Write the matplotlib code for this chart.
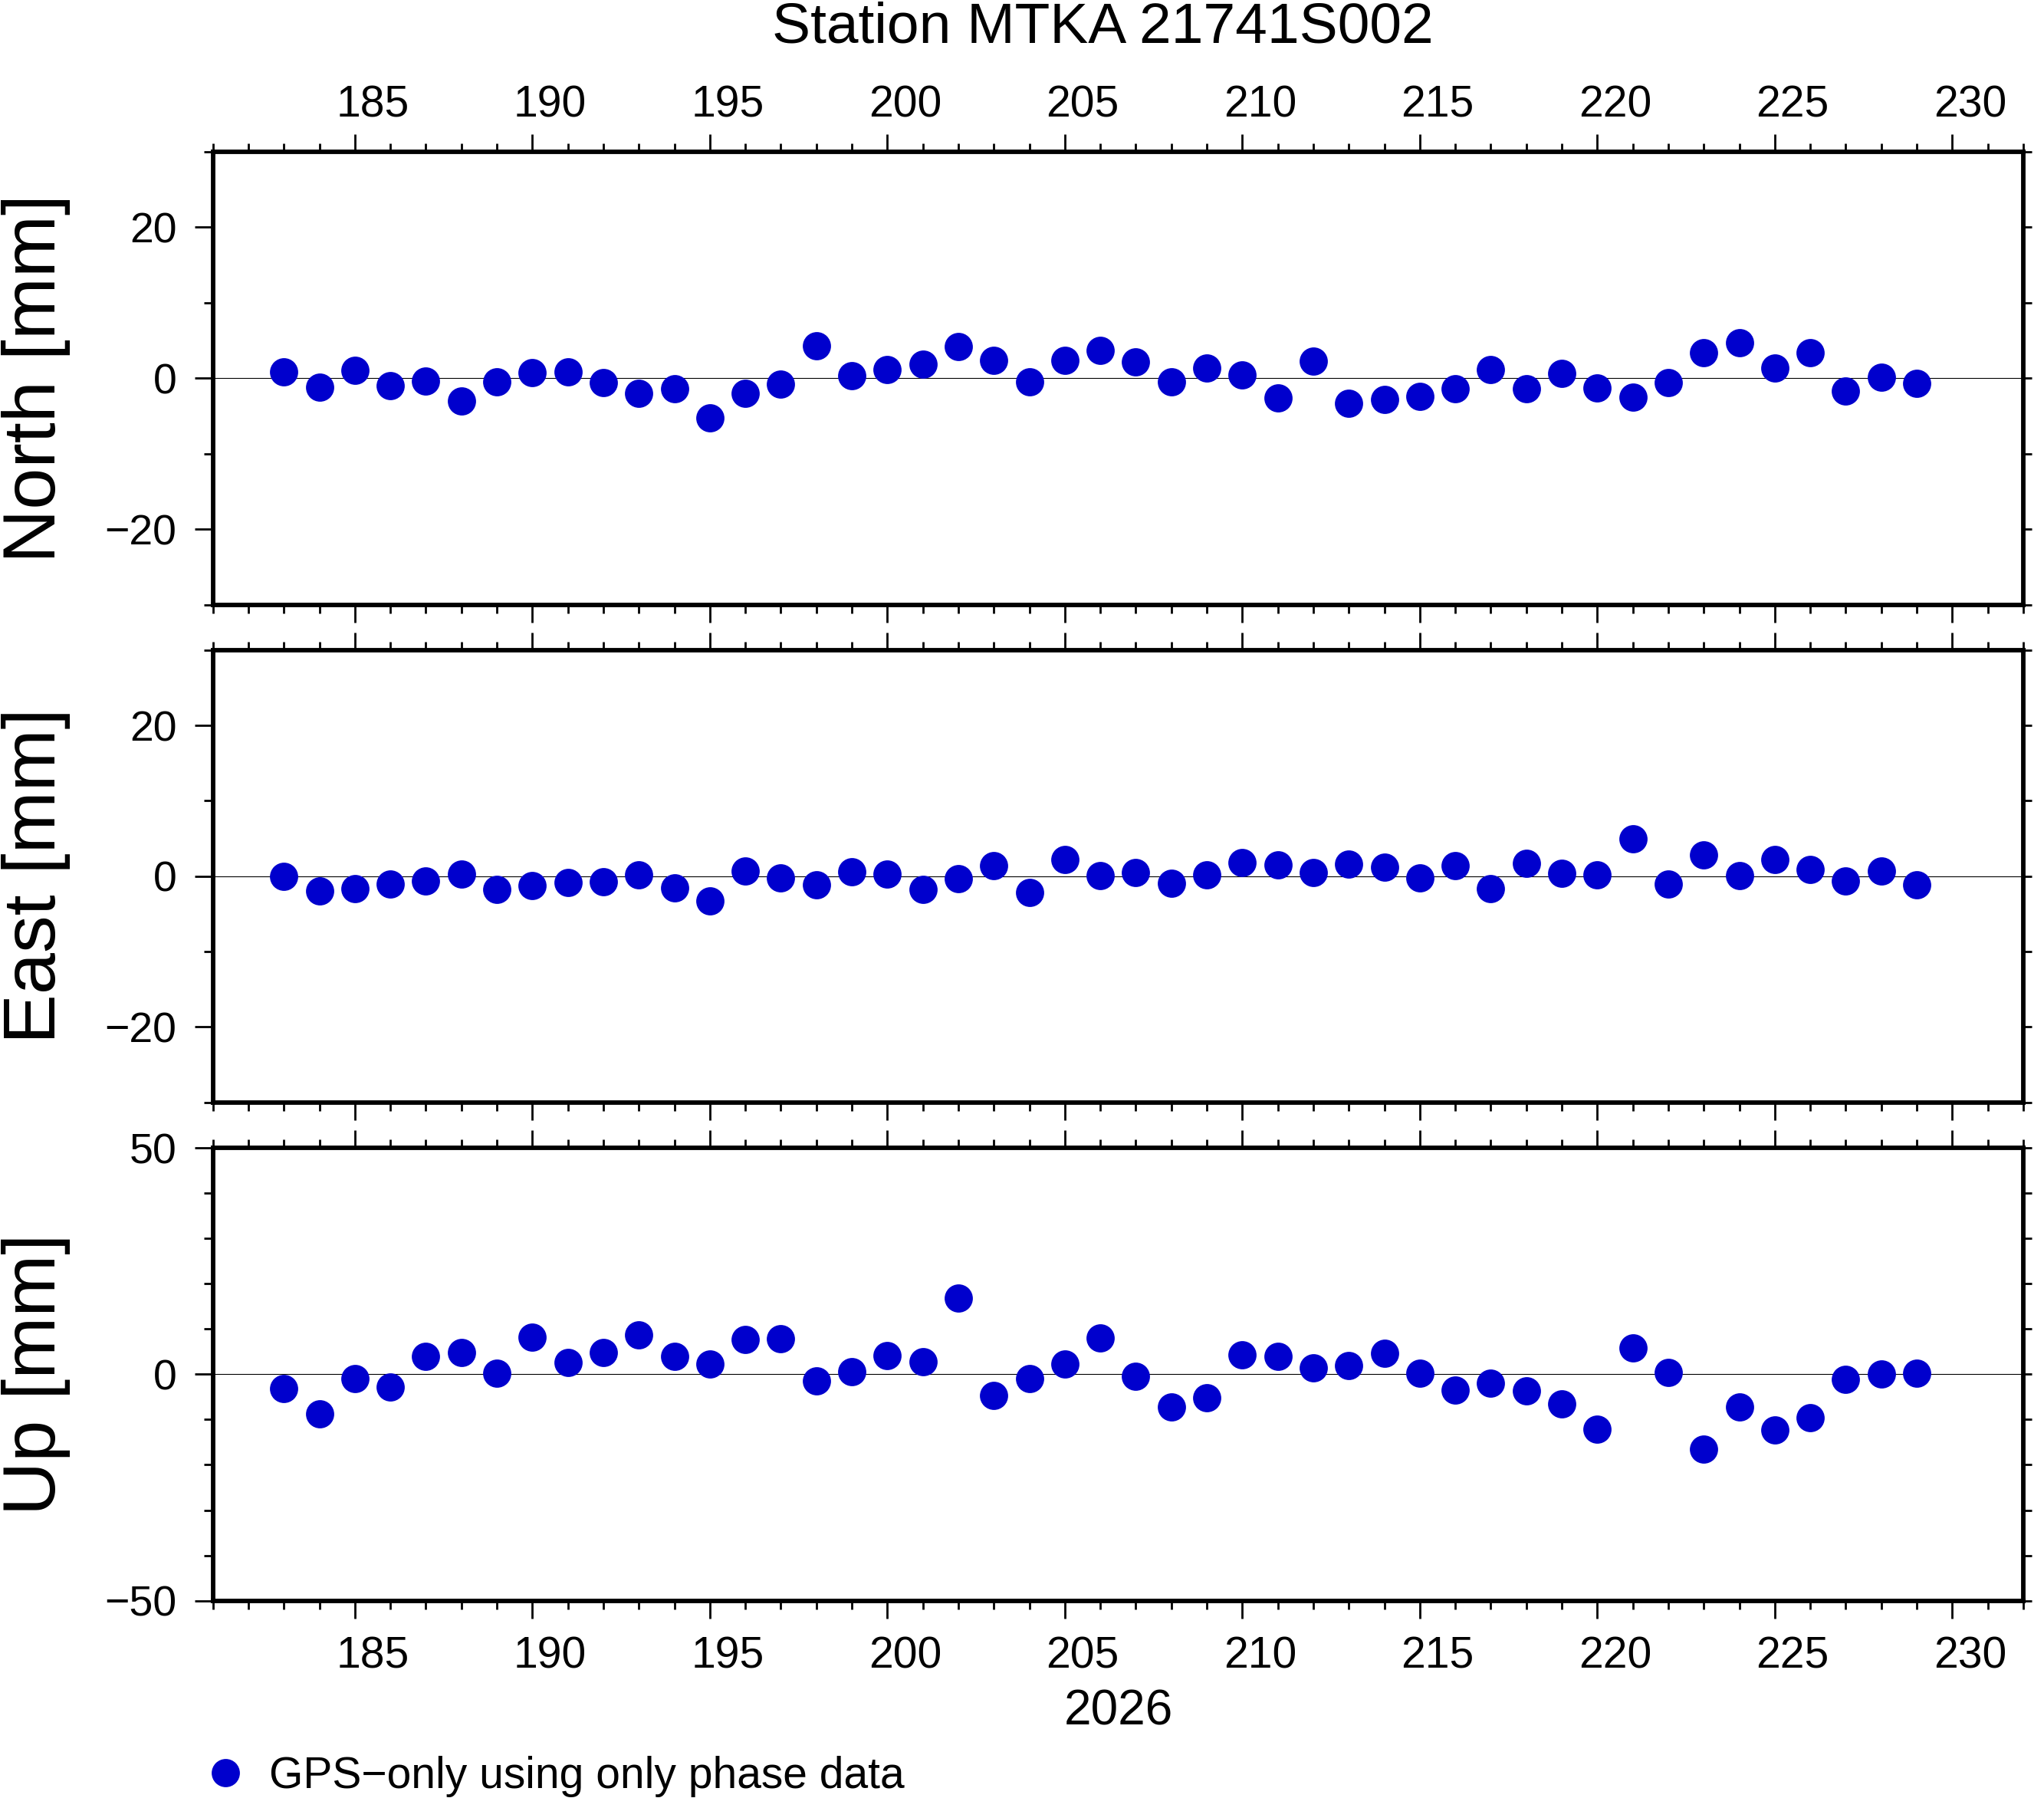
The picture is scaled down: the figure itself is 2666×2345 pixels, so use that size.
import matplotlib
matplotlib.use("Agg")
from matplotlib import pyplot as plt
from matplotlib.ticker import MultipleLocator, NullFormatter
import numpy as np

plt.rcParams['font.family'] = ['Liberation Sans', 'DejaVu Sans']

# day of year 2026
days = list(range(183, 230))

north = [0.81, -1.22, 1.01, -1.01, -0.41, -3.04, -0.51, 0.71, 0.81, -0.61, -2.03, -1.42,
         -5.27, -2.03, -0.81, 4.26, 0.30, 1.11, 1.82, 4.16, 2.33, -0.51, 2.33, 3.65,
         2.13, -0.51, 1.32, 0.41, -2.64, 2.23, -3.34, -2.84, -2.43, -1.42, 1.11, -1.42,
         0.61, -1.32, -2.53, -0.61, 3.34, 4.66, 1.32, 3.34, -1.72, 0.10, -0.71]
east = [0.0, -1.93, -1.62, -1.01, -0.61, 0.30, -1.72, -1.22, -0.81, -0.71, 0.20, -1.52,
        -3.34, 0.71, -0.20, -1.11, 0.61, 0.30, -1.72, -0.30, 1.42, -2.13, 2.23, 0.10,
        0.51, -0.91, 0.20, 1.82, 1.52, 0.51, 1.62, 1.22, -0.20, 1.42, -1.62, 1.72,
        0.41, 0.20, 4.97, -1.01, 2.84, 0.10, 2.23, 0.91, -0.61, 0.71, -1.11]
up = [-3.16, -8.81, -1.02, -2.88, 3.90, 4.75, 0.17, 8.14, 2.54, 4.75, 8.70, 3.90,
      2.20, 7.63, 7.80, -1.53, 0.51, 4.07, 2.82, 16.78, -4.75, -1.02, 2.20, 8.02,
      -0.51, -7.23, -5.25, 4.24, 3.90, 1.36, 1.86, 4.58, 0.17, -3.56, -2.03, -3.73,
      -6.61, -12.20, 5.76, 0.34, -16.61, -7.23, -12.37, -9.66, -1.19, 0.0, 0.17]

panel_names = ["North [mm]", "East [mm]", "Up [mm]"]
panel_limits = [30, 30, 50]
panel_major = [20, 20, 50]
x_labels = [str(d) for d in range(185, 231, 5)]
title = "Station MTKA 21741S002"
legend_label = "GPS\u2212only using only phase data"

W, H = 2666, 2345
fig = plt.figure(figsize=(W / 100, H / 100), dpi=100)

x0, x1 = 277.7, 2639
panels_px = [(197.7, 789), (847.7, 1437.6), (1497, 2087.7)]
col = '#0000CD'
spine_w = 4.2
tick_w = 2.0

axes = []
for i, (top, bot) in enumerate(panels_px):
    ax = fig.add_axes([x0 / W, 1 - bot / H, (x1 - x0) / W, (bot - top) / H])
    vals = [north, east, up][i]
    ax.axhline(0, color='black', lw=0.8, zorder=1)
    line, = ax.plot(days, vals, 'o', ms=26.5, color=col, mew=0, zorder=3, label=legend_label)
    ax.set_xlim(181, 232)
    lim = panel_limits[i]
    ax.set_ylim(-lim, lim)
    ax.xaxis.set_major_locator(MultipleLocator(5))
    ax.xaxis.set_minor_locator(MultipleLocator(1))
    ax.xaxis.set_major_formatter(NullFormatter())
    ax.yaxis.set_major_locator(MultipleLocator(panel_major[i]))
    ax.yaxis.set_minor_locator(MultipleLocator(10))
    ax.tick_params(axis='x', which='both', direction='out', top=True, bottom=True,
                   width=tick_w, labelbottom=False, labeltop=False)
    ax.tick_params(axis='x', which='major', length=16.5)
    ax.tick_params(axis='x', which='minor', length=8)
    ax.tick_params(axis='y', which='both', direction='out', left=True, right=False,
                   width=tick_w, labelsize=40, pad=17)
    ax.tick_params(axis='y', which='major', length=17)
    ax.tick_params(axis='y', which='minor', length=8.5)
    for s in ax.spines.values():
        s.set_linewidth(spine_w)

    # right side ticks, all short
    rsec = ax.secondary_yaxis('right')
    rsec.yaxis.set_major_locator(MultipleLocator(10))
    rsec.yaxis.set_major_formatter(NullFormatter())
    rsec.tick_params(axis='y', direction='out', length=8, width=tick_w)
    rsec.spines['right'].set_visible(False)

    fig.text(47 / W, 1 - (top + bot) / 2 / H, panel_names[i], rotation=90,
             ha='center', va='center', fontsize=70)
    axes.append(ax)

# day labels centred in the day interval
label_pos = [float(d) + 0.5 for d in range(185, 231, 5)]

tsec = axes[0].secondary_xaxis('top')
tsec.set_xticks(label_pos, labels=x_labels)
tsec.tick_params(axis='x', length=0, pad=24, labelsize=41)
tsec.spines['top'].set_visible(False)

bsec = axes[2].secondary_xaxis('bottom')
bsec.set_xticks(label_pos, labels=x_labels)
bsec.tick_params(axis='x', length=0, pad=33, labelsize=41)
bsec.spines['bottom'].set_visible(False)

fig.text(1438 / W, 1 - 56 / H, title, ha='center', va='baseline', fontsize=54)
fig.text(1459 / W, 1 - 2250 / H, "2026", ha='center', va='baseline', fontsize=46)

fig.legend(handles=[line], loc='lower left', bbox_to_anchor=(266 / W, 1 / H),
           frameon=False, fontsize=41, borderpad=0, borderaxespad=0,
           handlelength=1.0, handletextpad=0.5, numpoints=1)

fig.savefig("out.png", dpi=100, facecolor='white')
